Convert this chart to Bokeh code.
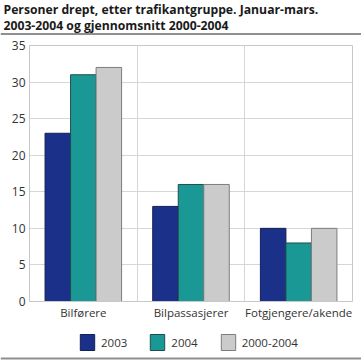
from bokeh.plotting import figure
from bokeh.layouts import column
from bokeh.models import (Range1d, FixedTicker, Legend, LegendItem, Span,
                          ColumnDataSource)
from bokeh.core.properties import value
from bokeh.embed import file_html
from bokeh.resources import INLINE

title_lines = ["Personer drept, etter trafikantgruppe. Januar-mars.",
               "2003-2004 og gjennomsnitt 2000-2004"]
categories = ["Bilførere", "Bilpassasjerer", "Fotgjengere/akende"]
series = ["2003", "2004", "2000-2004"]
v2003 = [23, 13, 10]
v2004 = [31, 16, 8]
vavg = [32, 16, 10]
yticks = [0, 5, 10, 15, 20, 25, 30, 35]

colors = ["#1b3089", "#1a9896", "#cbcbcb"]
edges = ["#141f55", "#1f4d4c", "#7d7d7d"]
FONT = "Open Sans"
RULE = "#8f8f8f"
W = 361
H_HEAD, H_MAIN, H_FOOT = 35, 290, 35
NOBORDER = dict(min_border=0, min_border_left=0, min_border_right=0,
                min_border_top=0, min_border_bottom=0)


def bare(fig):
    fig.axis.visible = False
    fig.grid.visible = False
    fig.outline_line_color = None
    fig.background_fill_color = "white"
    fig.border_fill_color = "white"


# ---- header: title + rule
head = figure(width=W, height=H_HEAD, output_backend="svg", toolbar_location=None,
              title=None, x_range=Range1d(0, W), y_range=Range1d(H_HEAD, 0),
              x_axis_type=None, y_axis_type=None, frame_align=False, **NOBORDER)
bare(head)
head.text(x=[3, 3], y=[8.5, 24.5], text=title_lines,
          text_font=value(FONT), text_font_style="bold", text_font_size="12.2px",
          text_color="#1a1a1a", text_baseline="alphabetic", text_align="left")
head.add_layout(Span(location=33.5, dimension="width", line_color=RULE, line_width=2))

# ---- main chart
vals_by_series = [v2003, v2004, vavg]
p = figure(width=W, height=H_MAIN, output_backend="svg", toolbar_location=None,
           title=None, x_range=Range1d(0, len(categories)), y_range=Range1d(0, 35),
           min_border_left=29, min_border_right=9, min_border_top=10,
           min_border_bottom=24, frame_align=False)
p.background_fill_color = "white"
p.border_fill_color = "white"
p.outline_line_color = "#c8c8c8"

bw = 0.237
offsets = [-bw, 0.0, bw]
centers = [i + 0.5 for i in range(len(categories))]
sources = []
for vals, off, col, ec in zip(vals_by_series, offsets, colors, edges):
    src = ColumnDataSource(dict(x=[c + off for c in centers], top=vals))
    sources.append(src)
    p.vbar(x="x", top="top", width=bw, bottom=0, source=src,
           fill_color=col, line_color=ec, line_width=1)

p.yaxis.ticker = FixedTicker(ticks=yticks)
p.yaxis.axis_line_color = "#c8c8c8"
p.yaxis.major_tick_line_color = None
p.yaxis.major_tick_out = 0
p.yaxis.major_tick_in = 0
p.yaxis.minor_tick_line_color = None
p.yaxis.major_label_text_font = FONT
p.yaxis.major_label_text_font_size = "12px"
p.yaxis.major_label_text_color = "#333333"
p.yaxis.major_label_standoff = 4

p.xaxis.ticker = FixedTicker(ticks=centers)
p.xaxis.major_label_overrides = {c: n for c, n in zip(centers, categories)}
p.xaxis.axis_line_color = "#c8c8c8"
p.xaxis.major_tick_line_color = None
p.xaxis.major_tick_out = 0
p.xaxis.major_tick_in = 0
p.xaxis.minor_tick_line_color = None
p.xaxis.major_label_text_font = FONT
p.xaxis.major_label_text_font_size = "11.5px"
p.xaxis.major_label_text_color = "#333333"
p.xaxis.major_label_standoff = 3

p.ygrid.grid_line_color = "#d6d6d6"
p.xgrid.ticker = FixedTicker(ticks=list(range(1, len(categories))))
p.xgrid.grid_line_color = "#d6d6d6"

# ---- footer: legend + rule
foot = figure(width=W, height=H_FOOT, output_backend="svg", toolbar_location=None,
              title=None, x_range=Range1d(0, W), y_range=Range1d(H_FOOT, 0),
              x_axis_type=None, y_axis_type=None, frame_align=False, **NOBORDER)
bare(foot)
# legend proxies: same data on an out-of-view range so only legend swatches show
foot.extra_y_ranges = {"proxy": Range1d(1000, 2000)}
items = []
for s, src, col, ec in zip(series, sources, colors, edges):
    fsrc = ColumnDataSource(dict(src.data))
    r = foot.vbar(x="x", top="top", width=bw, bottom=0, source=fsrc,
                  y_range_name="proxy",
                  fill_color=col, line_color=ec, line_width=1)
    items.append(LegendItem(label=s, renderers=[r]))
legend = Legend(items=items, orientation="horizontal", location=(78, 8),
                glyph_width=18, glyph_height=20, label_standoff=5, spacing=21,
                padding=0, margin=0, border_line_color=None,
                background_fill_alpha=0, label_text_font=FONT,
                label_text_font_size="11.5px", label_text_color="#333333",
                label_text_baseline="middle")
foot.add_layout(legend, "center")
foot.add_layout(Span(location=33, dimension="width", line_color=RULE, line_width=2))

layout = column(head, p, foot, spacing=0)
open("out.html", "w").write(file_html(layout, INLINE))
